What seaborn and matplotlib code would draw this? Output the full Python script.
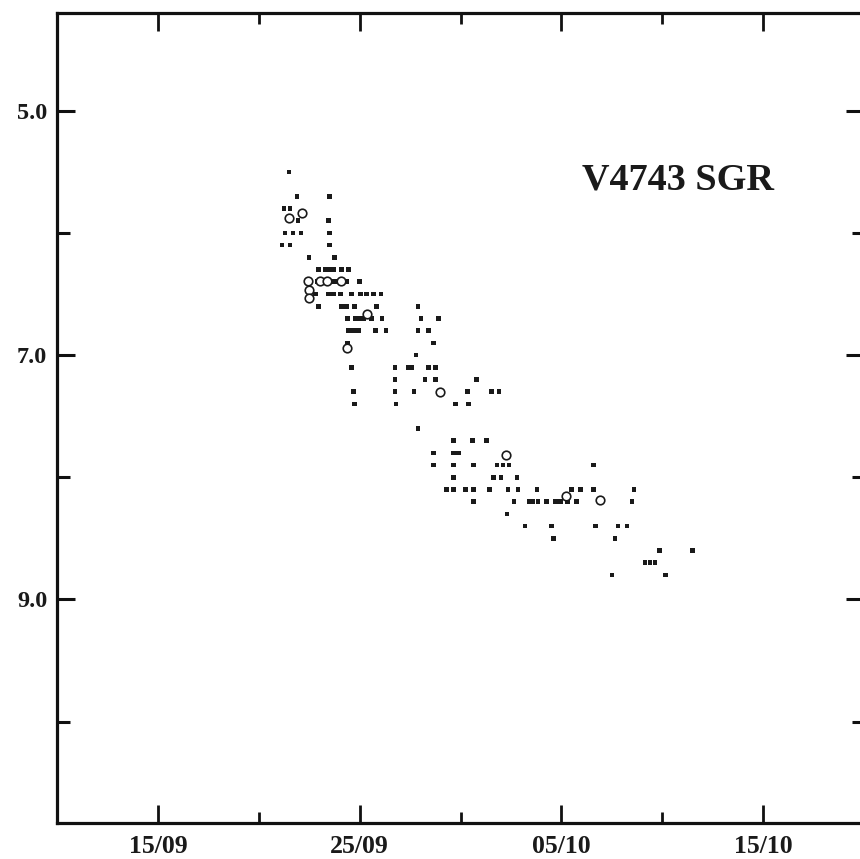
import matplotlib
matplotlib.use("Agg")
import matplotlib.pyplot as plt
import seaborn as sns
import pandas as pd
from matplotlib.ticker import FixedLocator, FixedFormatter, NullFormatter

# Day numbers counted from 1 September (1 October = 31)
dot_day = [
    21.5,
    21.9, 23.5,
    21.25, 21.55,
    21.95, 23.45,
    21.3, 21.7, 22.1, 23.5,
    21.15, 21.55, 23.5,
    22.5, 23.75,
    22.95, 23.3, 23.5, 23.7, 24.1, 24.45,
    22.9, 23.75, 24.35, 25.0,
    22.8, 23.45, 23.7, 24.05, 24.6, 25.05, 25.35, 25.7, 26.05,
    22.95, 24.1, 24.35, 24.75, 25.85, 27.9,
    24.4, 24.8, 25.0, 25.2, 25.6, 26.1, 28.05, 28.9,
    24.45, 24.7, 24.95, 25.8, 26.3, 27.9, 28.4,
    24.4, 28.65,
    27.8,
    24.6, 26.75, 27.4, 27.6, 28.4, 28.75,
    26.75, 28.25, 28.75, 30.8,
    24.7, 26.75, 27.7, 30.35, 31.55, 31.9,
    24.75, 26.8, 29.75, 30.4,
    27.9,
    29.65, 30.6, 31.3,
    28.65, 29.65, 29.9,
    28.65, 29.65, 30.65, 31.8, 32.1, 32.4, 36.6,
    29.65, 31.65, 32.0, 32.8,
    29.3, 29.65, 30.25, 30.65, 31.45, 32.35, 32.85, 33.8, 35.5, 35.95, 36.6, 38.6,
    30.65, 32.65, 33.4, 33.6, 33.85, 34.25, 34.7, 34.95, 35.3, 35.75, 38.5,
    32.3,
    33.2, 34.5, 36.7, 37.8, 38.25,
    34.6, 37.65,
    39.85, 41.5,
    39.15, 39.4, 39.65,
    37.5, 40.15,
]
dot_mag = (
    [5.5] * 1 + [5.7] * 2 + [5.8] * 2 + [5.9] * 2 + [6.0] * 4 + [6.1] * 3
    + [6.2] * 2 + [6.3] * 6 + [6.4] * 4 + [6.5] * 9 + [6.6] * 6 + [6.7] * 8
    + [6.8] * 7 + [6.9] * 2 + [7.0] * 1 + [7.1] * 6 + [7.2] * 4 + [7.3] * 6
    + [7.4] * 4 + [7.6] * 1 + [7.7] * 3 + [7.8] * 3 + [7.9] * 7 + [8.0] * 4
    + [8.1] * 12 + [8.2] * 11 + [8.3] * 1 + [8.4] * 5 + [8.5] * 2 + [8.6] * 2
    + [8.7] * 3 + [8.8] * 2
)

circle_day = [21.5, 22.15, 22.45, 23.05, 23.4, 24.1, 22.5, 22.5, 25.35, 24.35, 29.0, 32.25, 35.25, 36.9]
circle_mag = [5.88, 5.84, 6.39, 6.39, 6.39, 6.39, 6.47, 6.53, 6.66, 6.94, 7.30, 7.82, 8.15, 8.19]

x_major = [15, 25, 35, 45]
x_major_labels = ["15/09", "25/09", "05/10", "15/10"]
x_minor = [20, 30, 40]
y_major = [5.0, 7.0, 9.0]
y_major_labels = ["5.0", "7.0", "9.0"]
y_minor = [6.0, 8.0, 10.0]
title = "V4743 SGR"

sns.set_theme(style="white")
plt.rcParams["font.family"] = ["Liberation Serif", "DejaVu Serif"]
plt.rcParams["font.weight"] = "bold"

W, H = 860, 859
fig = plt.figure(figsize=(W / 100, H / 100), dpi=100)
left, right, top, bottom = 57, 864, 13, 823
ax = fig.add_axes([left / W, (H - bottom) / H, (right - left) / W, (bottom - top) / H])

dots = pd.DataFrame({"day": dot_day, "mag": dot_mag})
circles = pd.DataFrame({"day": circle_day, "mag": circle_mag})

sns.scatterplot(data=dots, x="day", y="mag", ax=ax, marker="s", s=11,
                color="#1a1a1a", edgecolor="none", linewidth=0, zorder=3)
sns.scatterplot(data=circles, x="day", y="mag", ax=ax, marker="o", s=38,
                facecolor="white", edgecolor="#1a1a1a", linewidth=1.2, zorder=4)

ax.set_xlim(10, 50)
ax.set_ylim(10.83, 4.2)
ax.set_xlabel("")
ax.set_ylabel("")

ax.xaxis.set_major_locator(FixedLocator(x_major))
ax.xaxis.set_major_formatter(FixedFormatter(x_major_labels))
ax.xaxis.set_minor_locator(FixedLocator(x_minor))
ax.xaxis.set_minor_formatter(NullFormatter())
ax.yaxis.set_major_locator(FixedLocator(y_major))
ax.yaxis.set_major_formatter(FixedFormatter(y_major_labels))
ax.yaxis.set_minor_locator(FixedLocator(y_minor))
ax.yaxis.set_minor_formatter(NullFormatter())

ax.tick_params(axis="x", which="major", direction="in", length=13, width=2,
               top=True, bottom=True, pad=8.5, labelsize=18.5, color="#111111")
ax.tick_params(axis="x", which="minor", direction="in", length=8, width=2,
               top=True, bottom=True, color="#111111")
ax.tick_params(axis="y", which="major", direction="in", length=13, width=2.2,
               left=True, right=True, pad=7, labelsize=17.5, color="#111111")
ax.tick_params(axis="y", which="minor", direction="in", length=9, width=2.2,
               left=True, right=True, color="#111111")
for lab in ax.get_xticklabels() + ax.get_yticklabels():
    lab.set_fontweight("bold")
    lab.set_color("#1a1a1a")

for sp in ax.spines.values():
    sp.set_linewidth(2.3)
    sp.set_color("#111111")
    sp.set_visible(True)

ax.text(0.788, 1 - 189 / H, title, transform=fig.transFigure, ha="center", va="baseline",
        fontsize=27.5, fontweight="bold", color="#1a1a1a")

fig.savefig("out.png", dpi=100, facecolor="white")
